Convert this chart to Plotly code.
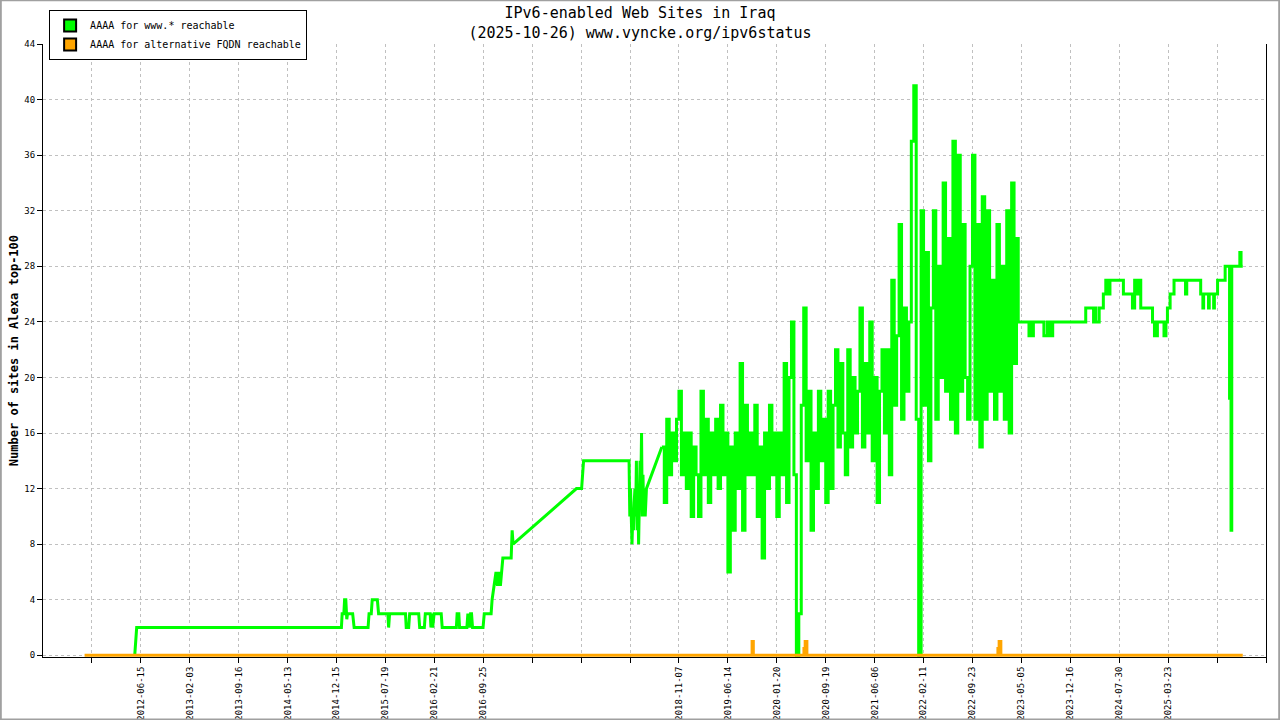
import plotly.graph_objects as go

# x axis is the sample position of the status file, one tick every 20 positions
tick_pos = list(range(0, 481, 20))
tick_text = ['', '2012-06-15', '2013-02-03', '2013-09-16', '2014-05-13', '2014-12-15',
             '2015-07-19', '2016-02-21', '2016-09-25', '', '', '', '2018-11-07',
             '2019-06-14', '2020-01-20', '2020-09-19', '2021-06-06', '2022-02-11',
             '2022-09-23', '2023-05-05', '2023-12-16', '2024-07-30', '2025-03-23', '', '']

# www.* reachable - early part (sparse samples)
early_pos = [17.5, 17.8, 18.3, 102.0, 102.3, 103.0, 103.3, 103.8, 104.0, 104.2, 104.5, 106.6, 107.2,
             112.9, 113.3, 114.2, 114.6, 116.7, 117.2, 121.0, 121.3, 121.7, 128.2, 128.5, 129.5,
             129.9, 133.6, 134.0, 135.9, 136.3, 138.3, 138.6, 139.0, 139.3, 139.9, 142.8, 143.2,
             149.0, 149.3, 150.0, 150.3, 153.3, 153.7, 154.4, 154.8, 155.2, 155.6, 159.9, 160.4,
             163.2, 163.6, 164.4, 165.2, 165.8, 166.4, 167.0, 167.6, 168.0, 171.4, 171.8, 172.2,
             198.1, 200.2, 200.6, 201.0, 219.6, 219.9, 220.2, 220.5, 220.8, 221.1, 221.4, 221.7,
             222.0, 222.3, 222.6, 222.9, 223.2, 223.5, 223.8, 224.1, 224.4, 224.7, 225.0, 225.3,
             225.6, 225.9, 226.2, 226.7]
early_val = [0, 1, 2, 2, 3, 3, 4, 4, 3, 2.6, 3, 3, 2,
             2, 3, 3, 4, 4, 3, 3, 2, 3, 3, 2, 2,
             3, 3, 2, 2, 3, 3, 2, 3, 2, 3, 3, 2,
             2, 3, 3, 2, 2, 3, 2, 3, 3, 2, 2, 3,
             3, 4, 5, 6, 5, 6, 5, 6, 7, 7, 9, 8,
             12, 12, 13, 14, 14, 10, 12, 9, 8, 10, 9, 11,
             12, 10, 14, 9, 12, 8, 11, 14, 12, 16, 10, 13,
             10, 12, 10, 12]

# www.* reachable - dense daily part, one value per position from 233
dense_start = 233
dense_val = [15, 11, 17, 13, 16, 14, 17, 19, 13, 16, 12, 16, 10, 15, 13, 10, 19, 13, 17, 11,
             16, 13, 17, 12, 18, 13, 16, 6, 15, 9, 16, 12, 21, 9, 18, 13, 16, 13, 18, 10,
             15, 7, 16, 12, 18, 13, 16, 10, 16, 13, 21, 11, 20, 24, 13, 0, 3, 18, 25, 14,
             19, 9, 16, 12, 19, 14, 17, 11, 19, 12, 18, 22, 15, 21, 16, 13, 22, 15, 20, 16,
             19, 25, 15, 21, 16, 24, 14, 20, 11, 19, 22, 16, 22, 13, 27, 18, 23, 31, 17, 25,
             19, 24, 37, 41, 17, 0, 32, 18, 29, 14, 25, 32, 17, 28, 20, 34, 19, 30, 17, 37,
             16, 36, 19, 31, 20, 17, 28, 36, 17, 31, 15, 33, 17, 32, 19, 27, 17, 31, 19, 28,
             17, 32, 16, 34, 21, 30]

# www.* reachable - late part
late_pos = [378.7, 382.8, 383.1, 383.6, 384.2, 384.9, 388.9, 389.2, 390.3, 390.6, 391.4, 391.7,
            392.5, 392.8, 406.0, 406.3, 409.2, 409.5, 410.0, 410.4, 411.5, 411.8, 413.2, 413.5,
            414.2, 414.5, 414.9, 415.4, 415.8, 416.2, 421.4, 421.7, 425.1, 425.4, 426.0, 426.3,
            427.2, 427.4, 427.7, 428.5, 428.8, 433.3, 433.6, 434.2, 434.4, 435.4, 435.6, 438.0,
            438.3, 438.9, 439.1, 439.4, 439.7, 440.5, 440.8, 442.1, 442.4, 446.9, 447.1, 447.4,
            447.6, 453.0, 453.3, 454.0, 454.2, 454.5, 456.3, 456.5, 456.8, 458.4, 458.6, 458.9,
            459.9, 460.2, 463.0, 463.3, 464.9, 465.1, 465.7, 466.0, 469.1, 469.3, 469.6, 469.8,
            470.5]
late_val = [24, 24, 23, 24, 23, 24, 24, 23, 23, 24, 24, 23,
            23, 24, 24, 25, 25, 24, 25, 24, 24, 25, 25, 26,
            26, 27, 26, 27, 26, 27, 27, 26, 26, 25, 25, 27,
            27, 26, 27, 27, 25, 25, 24, 24, 23, 23, 24, 24,
            23, 23, 24, 24, 25, 25, 26, 26, 27, 27, 26, 26,
            27, 27, 26, 26, 25, 26, 26, 25, 26, 26, 25, 26,
            26, 27, 27, 28, 28, 18.5, 9, 28, 28, 29, 29, 28,
            28]

# alternative FQDN reachable
alt_pos = [-3.0, 269.8, 269.9, 270.3, 270.4, 291.0, 291.1, 291.5, 291.6, 292.2, 292.3,
           370.3, 370.4, 370.8, 370.9, 371.5, 371.6, 470.5]
alt_val = [0, 0, 1, 1, 0, 0, 0.5, 0.5, 1, 1, 0,
           0, 0.5, 0.5, 1, 1, 0, 0]

dense_pos = [dense_start + i for i in range(len(dense_val))]

MONO = "DejaVu Sans Mono"
GREEN = "#00ff00"
ORANGE = "#ffa500"

fig = go.Figure()
# sparse part drawn straight from point to point (gaps in the data give the ramps)
fig.add_trace(go.Scatter(x=early_pos + dense_pos[:1], y=early_val + dense_val[:1],
                         mode='lines', showlegend=False,
                         line=dict(color=GREEN, width=3)))
# daily part drawn as steps
fig.add_trace(go.Scatter(x=dense_pos + late_pos, y=dense_val + late_val,
                         mode='lines', showlegend=False,
                         line=dict(color=GREEN, width=3, shape='hv')))
fig.add_trace(go.Scatter(x=alt_pos, y=alt_val, mode='lines', showlegend=False,
                         line=dict(color=ORANGE, width=3, shape='hv')))

# legend entries drawn as colour swatches
for name, col in [('AAAA for www.* reachable', GREEN),
                  ('AAAA for alternative FQDN reachable', ORANGE)]:
    fig.add_trace(go.Scatter(x=[None], y=[None], mode='markers', name=name,
                             marker=dict(symbol='square', size=10, color=col,
                                         line=dict(color='black', width=1))))

fig.update_layout(
    width=1280, height=720,
    margin=dict(l=43, r=14, t=44, b=63, autoexpand=False),
    paper_bgcolor='white', plot_bgcolor='white',
    font=dict(family=MONO, size=9, color='black'),
    title=dict(text='IPv6-enabled Web Sites in Iraq<br>(2025-10-26) www.vyncke.org/ipv6status',
               x=0.5, xref='container', xanchor='center',
               y=0.975, yref='container', yanchor='top',
               font=dict(family=MONO, size=15, color='black')),
    legend=dict(x=0.005, y=1.0555, xanchor='left', yanchor='top',
                bordercolor='black', borderwidth=1, bgcolor='white',
                font=dict(family=MONO, size=10, color='black'),
                tracegroupgap=0, itemsizing='constant'),
    showlegend=True,
)

fig.update_xaxes(range=[-20, 480], tickmode='array', tickvals=tick_pos, ticktext=tick_text,
                 tickangle=-90, ticks='outside', ticklen=5, tickcolor='black',
                 showline=True, linecolor='black', linewidth=1, mirror=False,
                 showgrid=True, gridcolor='#c0c0c0', griddash='dot', gridwidth=1,
                 zeroline=False, automargin=False, tickfont=dict(family=MONO, size=9))
fig.update_yaxes(range=[-0.12, 44], tickmode='array', tickvals=list(range(0, 45, 4)),
                 ticks='outside', ticklen=5, tickcolor='black',
                 showline=True, linecolor='black', linewidth=1, mirror=True,
                 showgrid=True, gridcolor='#c0c0c0', griddash='dot', gridwidth=1,
                 zeroline=False, automargin=False, tickfont=dict(family=MONO, size=9))

fig.add_annotation(text='<b>Number of sites in Alexa top-100</b>', textangle=-90,
                   xref='paper', yref='paper', x=-0.024, y=0.5,
                   xanchor='center', yanchor='middle', showarrow=False,
                   font=dict(family=MONO, size=12, color='black'))

# grey frame around the whole picture
fig.add_shape(type='rect', xref='paper', yref='paper',
              x0=-0.0345, x1=1.0108, y0=-0.1021, y1=1.0712,
              line=dict(color='#a0a0a0', width=2), fillcolor='rgba(0,0,0,0)')

# page has a default body margin; drop it so the 1280x720 figure fills the window
fig.write_html("out.html", config={'displayModeBar': False},
               post_script="document.body.style.margin='0';document.body.style.overflow='hidden';")
